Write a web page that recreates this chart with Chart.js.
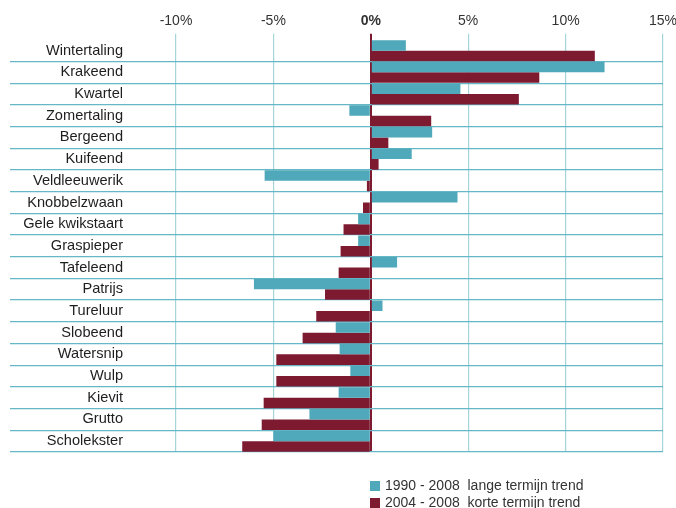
<!DOCTYPE html>
<html>
<head>
<meta charset="utf-8">
<script src="https://cdn.jsdelivr.net/npm/chart.js@4"></script>
<style>
  body { margin: 0; background: #fff; }
  #wrap { position: relative; width: 676px; height: 508px; }
  #legend { position: absolute; left: 370px; top: 477px; font: 14px "Liberation Sans", Arial, sans-serif; color: #333; }
  #legend div { height: 17px; line-height: 17px; white-space: pre; }
  #legend span { display: inline-block; width: 10px; height: 10px; margin-right: 5px; vertical-align: -1px; }
</style>
</head>
<body>
<div id="wrap">
  <canvas id="chart" width="676" height="508"></canvas>
  <div id="legend"></div>
</div>
<script>
// soorten (van boven naar onder)
var soorten = ["Wintertaling","Krakeend","Kwartel","Zomertaling","Bergeend","Kuifeend",
  "Veldleeuwerik","Knobbelzwaan","Gele kwikstaart","Graspieper","Tafeleend","Patrijs",
  "Tureluur","Slobeend","Watersnip","Wulp","Kievit","Grutto","Scholekster"];

// trend in % per jaar
var langeTermijn = [1.8, 12.0, 4.6, -1.1, 3.15, 2.1, -5.45, 4.45, -0.65, -0.65, 1.35, -6.0,
  0.6, -1.8, -1.6, -1.05, -1.65, -3.15, -5.0];
var korteTermijn = [11.5, 8.65, 7.6, 3.1, 0.9, 0.4, -0.2, -0.4, -1.4, -1.55, -1.65, -2.35,
  -2.8, -3.5, -4.85, -4.85, -5.5, -5.6, -6.6];

var labelLang = "1990 - 2008  lange termijn trend";
var labelKort = "2004 - 2008  korte termijn trend";

var teal = "#4fa9ba";
var rood = "#7d1a30";
var fontFam = "'Liberation Sans', Arial, sans-serif";

var ctx = document.getElementById("chart").getContext("2d");
var chart = new Chart(ctx, {
    type: "bar",
    data: {
        labels: soorten,
        datasets: [
            { label: labelLang, data: langeTermijn, backgroundColor: teal },
            { label: labelKort, data: korteTermijn, backgroundColor: rood }
        ]
    },
    options: {
        indexAxis: "y",
        responsive: false,
        animation: false,
        layout: { padding: { left: 10, right: 13, top: 9, bottom: 56 } },
        datasets: { bar: { categoryPercentage: 0.97, barPercentage: 1 } },
        plugins: {
            legend: { display: false },
            tooltip: { enabled: false }
        },
        scales: {
            x: {
                position: "top",
                min: -10,
                max: 15,
                border: { display: false },
                grid: {
                    tickLength: 6,
                    lineWidth: function(c) { return c.tick && c.tick.value === 0 ? 2 : 1.2; },
                    color: function(c) { return c.tick && c.tick.value === 0 ? rood : "#a6d4dd"; }
                },
                ticks: {
                    stepSize: 5,
                    padding: 4,
                    color: "#333",
                    font: function(c) {
                        return { family: fontFam, size: 14, weight: c.tick && c.tick.value === 0 ? "bold" : "normal" };
                    },
                    callback: function(v) { return v + "%"; }
                },
                // "15%" mag tot aan de rand lopen
                afterFit: function(scale) { scale.paddingRight = 0; }
            },
            y: {
                border: { display: false },
                grid: {
                    offset: true,
                    tickLength: 166,
                    lineWidth: 1.3,
                    // geen lijn boven de eerste soort
                    color: function(c) { return c.index === 0 ? "rgba(0,0,0,0)" : "#66b8c7"; }
                },
                ticks: {
                    padding: -113,
                    color: "#1e1e1e",
                    font: { family: fontFam, size: 14.6 }
                },
                afterFit: function(scale) { scale.width = 166; }
            }
        }
    }
});

// legenda onder de grafiek
var legend = document.getElementById("legend");
chart.data.datasets.forEach(function(ds) {
    var row = document.createElement("div");
    var box = document.createElement("span");
    box.style.background = ds.backgroundColor;
    row.appendChild(box);
    row.appendChild(document.createTextNode(ds.label));
    legend.appendChild(row);
});
</script>
</body>
</html>
